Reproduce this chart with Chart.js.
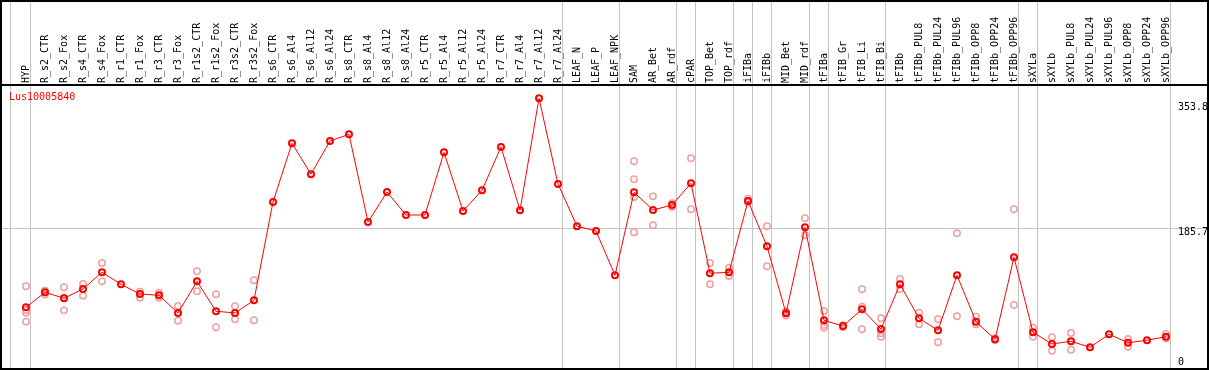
<!DOCTYPE html>
<html>
<head>
<meta charset="utf-8">
<script src="https://cdn.jsdelivr.net/npm/chart.js@4/dist/chart.umd.min.js"></script>
<style>
  html, body { margin: 0; padding: 0; background: #fff; }
  #c { display: block; }
</style>
</head>
<body>
<canvas id="c" width="1209" height="370"></canvas>
<script>
const categories = ['HYP','R_s2_CTR','R_s2_Fox','R_s4_CTR','R_s4_Fox','R_r1_CTR','R_r1_Fox','R_r3_CTR','R_r3_Fox','R_r1s2_CTR','R_r1s2_Fox','R_r3s2_CTR','R_r3s2_Fox','R_s6_CTR','R_s6_Al4','R_s6_Al12','R_s6_Al24','R_s8_CTR','R_s8_Al4','R_s8_Al12','R_s8_Al24','R_r5_CTR','R_r5_Al4','R_r5_Al12','R_r5_Al24','R_r7_CTR','R_r7_Al4','R_r7_Al12','R_r7_Al24','LEAF_N','LEAF_P','LEAF_NPK','SAM','AR_Bet','AR_rdf','cPAR','TOP_Bet','TOP_rdf','iFIBa','iFIBb','MID_Bet','MID_rdf','tFIBa','tFIB_Gr','tFIB_Li','tFIB_Bi','tFIBb','tFIBb_PUL8','tFIBb_PUL24','tFIBb_PUL96','tFIBb_OPP8','tFIBb_OPP24','tFIBb_OPP96','sXYLa','sXYLb','sXYLb_PUL8','sXYLb_PUL24','sXYLb_PUL96','sXYLb_OPP8','sXYLb_OPP24','sXYLb_OPP96'];

const means = [83.5,102.9,95.2,107.2,128.8,113.3,100.7,99.0,76.2,117.1,78.4,76.2,92.6,
  219.7,295.6,255.7,298.6,307.2,193.8,232.6,202.9,202.9,283.9,208.0,234.8,290.8,208.9,353.8,243.0,
  188.3,182.2,124.9,
  232.2,209.3,215.8,243.8,127.5,128.8,221.0,162.4,75.8,187.0,66.7,59.3,80.9,55.5,113.3,
  69.3,53.8,124.9,64.9,42.1,148.2,51.2,36.1,39.6,31.8,48.6,37.8,40.9,45.5];

const replicates = [
  [110.7,80,76.5,65],[105,100],[109.4,79.6,96],[113.7,98.6],[140.8,117.1],[],[103.7,95.9],[102.4,95.9],[85.2,66.2],[130.1,104.2],[100.3,57.7],[84.8,68],[118.4,66.7],
  [],[],[],[],[],[],[],[],[],[],[],[],[],[],[],[],
  [],[],[],
  [272.3,249,226.1,180.5],[227,189.6],[218,213.2],[276.2,210.2],[140.8,113.3],[134.7,124],[224,219.3],[188.3,136.5],[78,73],[198.6,176.6],[78.7,60.6,57.2],[60.5,58],[106.8,84.3,55.1],[69.3,49.9,45.5],[120.1,107.2],
  [76.6,61.5],[68,38.3],[179.2,71.9],[71.4,61.5],[43.5,41],[210.2,86.5],[57.2,45.5],[44.7,27.4],[50.3,28.7],[],[],[42.5,32.6],[],[49,43.4]
];

// index of the last category of each group (a separator line follows it)
const groupEnds = [-1, 0, 28, 31, 34, 35, 37, 38, 39, 41, 42, 45, 52, 53, 60];

const valueLabels = ['353.8', '185.7', '0'];
const geneName = 'Lus10005840';

const meanPoints = means.map((v, i) => ({x: i, y: v}));
const repPoints = [];
replicates.forEach((arr, i) => arr.forEach(v => repPoints.push({x: i, y: v})));

const sepVals = groupEnds.map(g => g === -1 ? -0.8 : g + 0.25);
const tickVals = sepVals.concat(categories.map((c, i) => i)).sort((a, b) => a - b);
const isSep = v => sepVals.some(s => Math.abs(s - v) < 1e-6);

const MONO = "'DejaVu Sans Mono', monospace";

const zeroPad = s => { s.paddingLeft = 0; s.paddingRight = 0; s.paddingTop = 0; s.paddingBottom = 0; };

const framePlugin = {
  id: 'frame',
  afterDraw(chart) {
    const ctx = chart.ctx;
    const y = chart.scales.y;
    ctx.save();
    ctx.strokeStyle = '#000';
    ctx.lineWidth = 2;
    ctx.strokeRect(1, 1, 1207, 368);
    ctx.font = '10px ' + MONO;
    ctx.fillStyle = '#ff0000';
    ctx.textBaseline = 'middle';
    ctx.textAlign = 'left';
    ctx.fillText(geneName, 9, 97);
    ctx.fillStyle = '#000';
    ctx.fillText(valueLabels[0], 1178, y.getPixelForValue(353.8) + 9);
    ctx.fillText(valueLabels[1], 1178, y.getPixelForValue(185.7) + 4);
    ctx.fillText(valueLabels[2], 1178, 362);
    ctx.restore();
  }
};

new Chart(document.getElementById('c'), {
  data: {
    datasets: [
      {
        type: 'line',
        data: meanPoints,
        borderColor: '#ff0000',
        borderWidth: 1,
        pointRadius: 3,
        pointBorderWidth: 2,
        pointBorderColor: '#ff0000',
        pointBackgroundColor: 'rgba(0,0,0,0)',
        tension: 0,
        clip: false
      },
      {
        type: 'scatter',
        data: repPoints,
        showLine: false,
        pointRadius: 3.2,
        pointBorderWidth: 1.5,
        pointBorderColor: '#f0a0a0',
        pointBackgroundColor: 'rgba(0,0,0,0)',
        clip: false
      }
    ]
  },
  options: {
    responsive: false,
    animation: false,
    events: [],
    layout: { padding: 0, autoPadding: false },
    plugins: { legend: { display: false }, tooltip: { enabled: false } },
    scales: {
      x: {
        type: 'linear',
        position: 'top',
        min: -26 / 19,
        max: (1209 - 26) / 19,
        afterBuildTicks: s => { s.ticks = tickVals.map(v => ({value: v})); },
        afterFit: s => { s.height = 85; zeroPad(s); },
        grid: {
          color: ctx => (ctx.tick && isSep(ctx.tick.value)) ? '#c4c4c4' : 'rgba(0,0,0,0)',
          lineWidth: 1,
          tickLength: 85,
          drawOnChartArea: true
        },
        border: { display: true, color: '#000', width: 2 },
        ticks: {
          autoSkip: false,
          minRotation: 90,
          maxRotation: 90,
          padding: -83,
          labelOffset: 12,
          color: '#000',
          font: { family: MONO, size: 10 },
          callback: v => Number.isInteger(v) ? categories[v] : ''
        }
      },
      y: {
        type: 'linear',
        position: 'left',
        min: 2.45,
        max: 370.95,
        afterBuildTicks: s => { s.ticks = [{value: 185.7}]; },
        afterFit: s => { s.width = 0; zeroPad(s); },
        ticks: { display: false },
        grid: { color: '#c4c4c4', lineWidth: 1, drawTicks: false },
        border: { display: false }
      }
    }
  },
  plugins: [framePlugin]
});
</script>
</body>
</html>
